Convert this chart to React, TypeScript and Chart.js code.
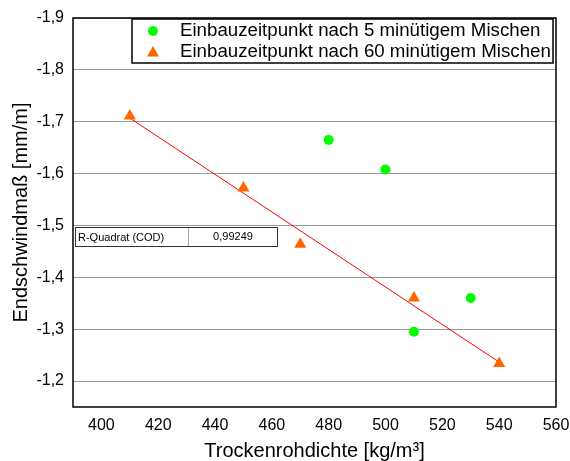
import React, { useEffect, useRef } from "react";
import { Chart, registerables } from "chart.js";

Chart.register(...registerables);

const series5X = [480, 500, 510, 530];
const series5Y = [-1.665, -1.608, -1.295, -1.36];
const series60X = [410, 450, 470, 510, 540];
const series60Y = [-1.711, -1.572, -1.464, -1.36, -1.234];
const trendX = [410, 540];
const trendY = [-1.707, -1.2365];
const yTicks = [-1.9, -1.8, -1.7, -1.6, -1.5, -1.4, -1.3, -1.2];
const xTicks = [400, 420, 440, 460, 480, 500, 520, 540, 560];
const legendLabels = [
  "Einbauzeitpunkt nach 5 minütigem Mischen",
  "Einbauzeitpunkt nach 60 minütigem Mischen",
];
const rSquaredLabel = "R-Quadrat (COD)";
const rSquaredValue = "0,99249";

const FONT = "'Liberation Sans', Arial, sans-serif";
const GREEN = "#00ff00";
const ORANGE = "#ff6600";

const overlayPlugin = {
  id: "overlay",
  afterDraw(chart: any) {
    const { ctx, chartArea } = chart;
    const { left, right, top, bottom } = chartArea;
    ctx.save();
    // plot frame
    ctx.strokeStyle = "#000";
    ctx.lineWidth = 1.5;
    ctx.strokeRect(left, top, right - left, bottom - top);

    // legend box
    const lx = 132, ly = 19, lw = 421, lh = 44;
    ctx.fillStyle = "#fff";
    ctx.fillRect(lx, ly, lw, lh);
    ctx.strokeStyle = "#000";
    ctx.lineWidth = 1.5;
    ctx.strokeRect(lx, ly, lw, lh);
    ctx.font = `18.7px ${FONT}`;
    ctx.textBaseline = "middle";
    ctx.textAlign = "left";
    ctx.fillStyle = "#000";
    ctx.fillText(legendLabels[0], 180, 31);
    ctx.fillText(legendLabels[1], 180, 52);
    ctx.fillStyle = GREEN;
    ctx.beginPath();
    ctx.arc(153, 31, 5, 0, Math.PI * 2);
    ctx.fill();
    ctx.fillStyle = ORANGE;
    ctx.beginPath();
    ctx.moveTo(153, 46);
    ctx.lineTo(159, 56.5);
    ctx.lineTo(147, 56.5);
    ctx.closePath();
    ctx.fill();

    // R-squared table
    const tx = 75, ty = 227, tw = 202, th = 19, div = 188;
    ctx.fillStyle = "#fff";
    ctx.fillRect(tx, ty, tw, th);
    ctx.strokeStyle = "#333";
    ctx.lineWidth = 1;
    ctx.strokeRect(tx + 0.5, ty + 0.5, tw, th);
    ctx.strokeStyle = "#aaa";
    ctx.beginPath();
    ctx.moveTo(div + 0.5, ty + 1);
    ctx.lineTo(div + 0.5, ty + th);
    ctx.stroke();
    ctx.fillStyle = "#000";
    ctx.font = `11px ${FONT}`;
    ctx.textAlign = "left";
    ctx.fillText(rSquaredLabel, 78, ty + th / 2 + 1);
    ctx.textAlign = "center";
    ctx.fillText(rSquaredValue, 233, ty + th / 2 + 0.5);
    ctx.restore();
  },
};

export default function App() {
  const canvasRef = useRef<HTMLCanvasElement>(null);
  useEffect(() => {
    document.body.style.margin = "0";
    const chart = new Chart(canvasRef.current as HTMLCanvasElement, {
      type: "scatter",
      data: {
        datasets: [
          {
            label: legendLabels[0],
            data: series5X.map((x, i) => ({ x, y: series5Y[i] })),
            backgroundColor: GREEN,
            borderColor: GREEN,
            pointStyle: "circle",
            pointRadius: 5,
            borderWidth: 0,
          },
          {
            label: legendLabels[1],
            data: series60X.map((x, i) => ({ x, y: series60Y[i] })),
            backgroundColor: ORANGE,
            borderColor: ORANGE,
            pointStyle: "triangle",
            pointRadius: 7,
            borderWidth: 0,
          },
          {
            label: "Trend",
            data: trendX.map((x, i) => ({ x, y: trendY[i] })),
            showLine: true,
            borderColor: "#ff0000",
            borderWidth: 1,
            pointRadius: 0,
          } as any,
        ],
      },
      options: {
        responsive: false,
        animation: false,
        layout: { padding: { left: 0, right: 14, top: 18, bottom: 0 } },
        plugins: { legend: { display: false }, tooltip: { enabled: false } },
        scales: {
          x: {
            type: "linear",
            min: 390,
            max: 560,
            afterBuildTicks: (s: any) => {
              s.ticks = xTicks.map((v) => ({ value: v }));
            },
            afterFit: (s: any) => {
              s.height = 54;
              s.paddingLeft = 0;
              s.paddingRight = 0;
            },
            grid: { display: false, drawTicks: false },
            border: { display: false },
            ticks: {
              padding: 9,
              color: "#000",
              font: { family: FONT, size: 16 },
              maxRotation: 0,
              autoSkip: false,
              callback: (v: any) => String(v),
            },
            title: {
              display: true,
              text: "Trockenrohdichte [kg/m³]",
              color: "#000",
              font: { family: FONT, size: 20, lineHeight: 1 },
              padding: { top: 0, bottom: 0 },
            },
          },
          y: {
            type: "linear",
            reverse: true,
            min: -1.9,
            max: -1.15,
            afterBuildTicks: (s: any) => {
              s.ticks = yTicks.map((v) => ({ value: v }));
            },
            afterFit: (s: any) => {
              s.width = 73;
              s.paddingTop = 0;
              s.paddingBottom = 0;
            },
            grid: { color: "#999", lineWidth: 1, drawTicks: false },
            border: { display: false },
            ticks: {
              padding: 9,
              color: "#000",
              font: { family: FONT, size: 16 },
              autoSkip: false,
              callback: (v: any) => Number(v).toFixed(1).replace(".", ","),
            },
            title: {
              display: true,
              text: "Endschwindmaß [mm/m]",
              color: "#000",
              font: { family: FONT, size: 20, lineHeight: 1 },
              padding: { top: 11, bottom: 0 },
            },
          },
        },
      },
      plugins: [overlayPlugin],
    });
    return () => chart.destroy();
  }, []);
  return (
    <div style={{ position: "absolute", left: 0, top: 0, width: 570, height: 461, background: "#fff" }}>
      <canvas ref={canvasRef} width={570} height={461} style={{ width: 570, height: 461 }} />
    </div>
  );
}
